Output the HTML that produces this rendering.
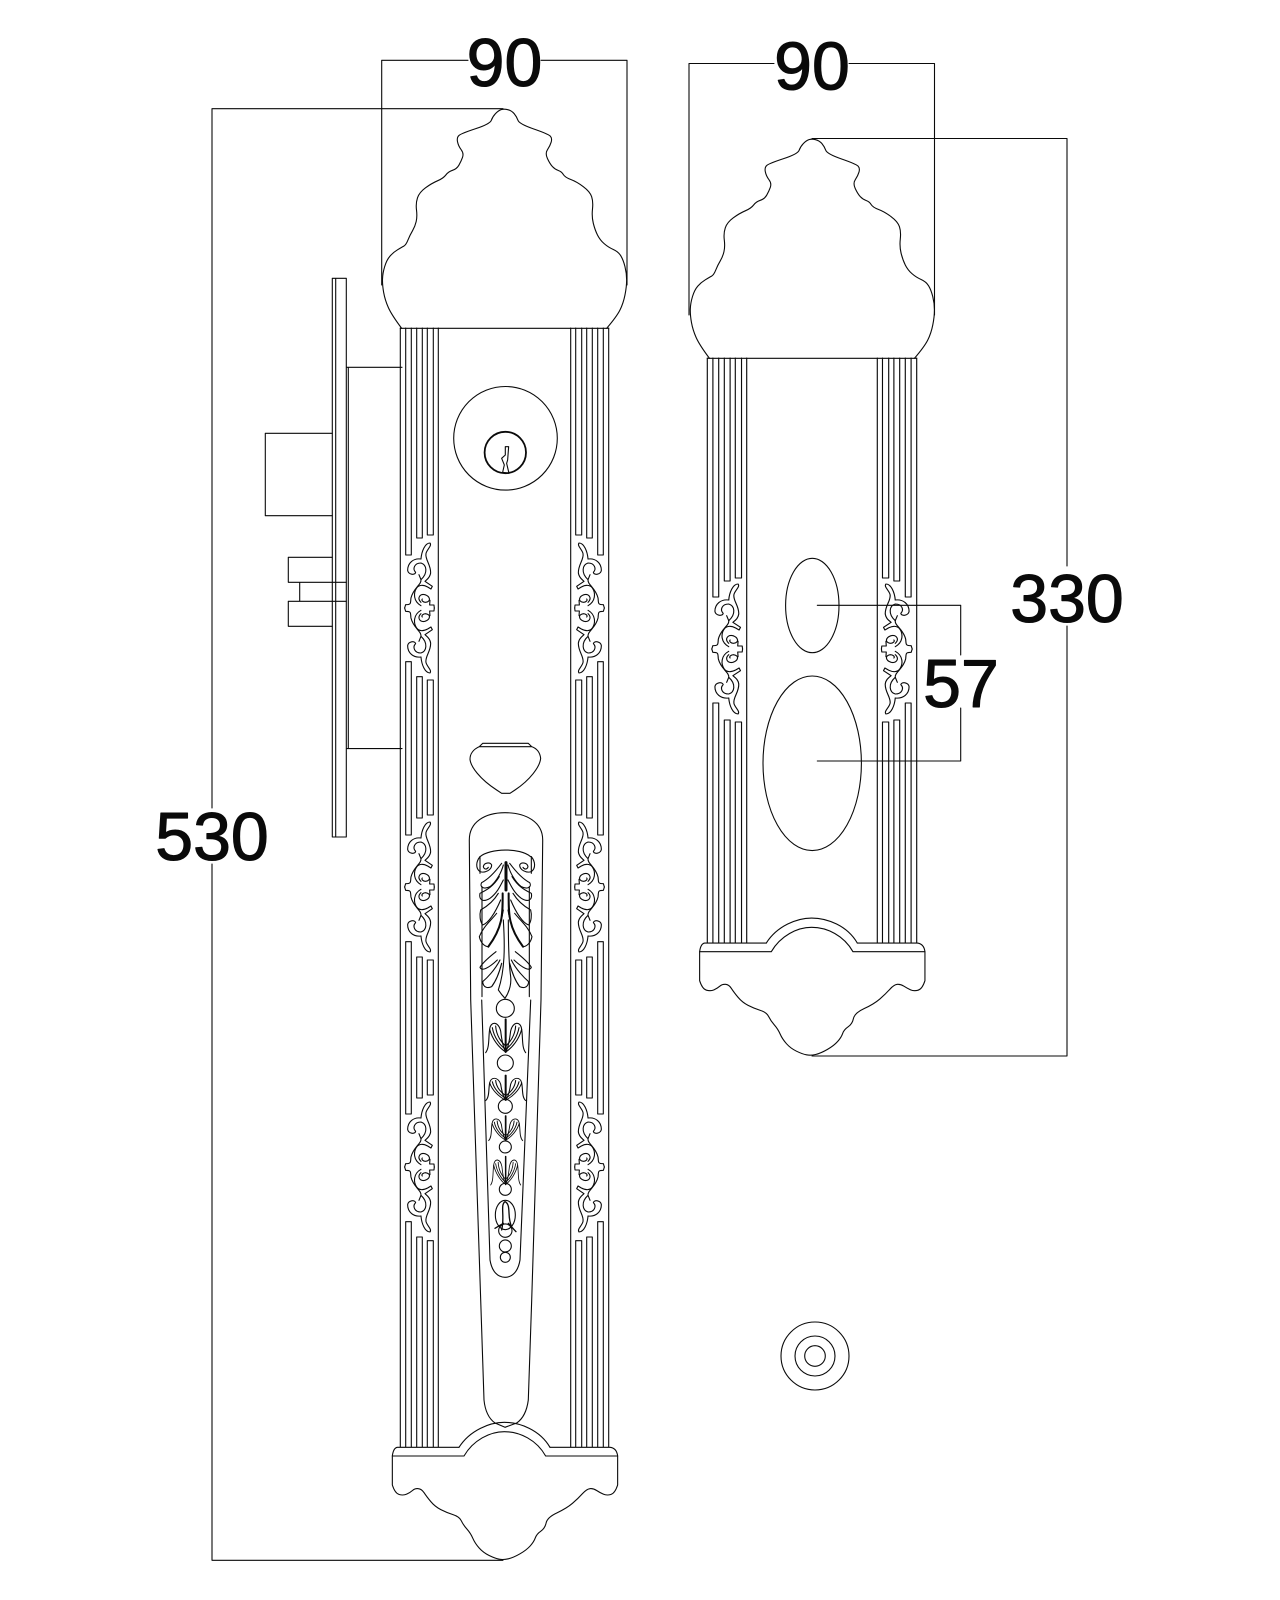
<!DOCTYPE html>
<html><head><meta charset="utf-8"><title>Lock drawing</title>
<style>html,body{margin:0;padding:0;background:#fff}svg{display:block}
text{font-family:"Liberation Sans",sans-serif;font-size:68px;fill:#0a0a0a;text-anchor:middle}</style></head>
<body>
<svg width="1280" height="1600" viewBox="0 0 1280 1600" xmlns="http://www.w3.org/2000/svg" fill="none" stroke="#0a0a0a" stroke-width="1.1" stroke-linejoin="round" stroke-linecap="round">
<defs>
<g id="oh" transform="translate(-73,-235)">
<path d="M78 88C80 65 90 40 105 40C112 48 95 60 93 72C90 90 108 105 107 130C105 145 95 150 90 155L112 170L108 178L98 172C85 165 72 165 65 175C55 190 55 215 78 228"/>
<path d="M78 88C55 85 38 100 38 122C40 135 60 138 62 128C52 118 58 100 78 100C95 105 100 130 78 150L72 135"/>
<path d="M78 150C80 165 55 175 48 205C46 220 50 225 32 225L29 235"/>
<path d="M78 218C65 205 75 192 90 195C105 200 110 215 92 218C85 218 78 212 82 208"/>
<path d="M105 212L104 226L117 226L118 235"/>
</g>
<g id="orn" transform="scale(.3333)" stroke-width="3.3">
<use href="#oh"/><use href="#oh" transform="scale(1,-1)"/>
</g>
<g id="crown" transform="translate(360,20) scale(.3333)" stroke-width="3.3">
<path d="M125 925Q95 885 85 862.5T71 817.5T67.5 777.5T74 740T90 708.5T112.5 689.5T131.5 678.5T144 660T157.5 632.5T168.5 605T169.5 570T172.5 533.5T196.5 503.5T232.5 482.5T257.5 465T277.5 451T296.5 436T307.5 412.5T303.5 389T292.5 365T297.5 346T347.5 326T394 301T406.5 281T423.5 269T443.5 269T462.5 281T474 301T521.5 327T571 348.5T573.5 366.5T562.5 389T562.5 416T577.5 440T595 451.5T610 463.5T632.5 478.5T670 500T695 530T697.5 567.5T700 610T712.5 645T732.5 671T760 688.5T782.5 707.5T795 740T800 780T795 825T780 870T740 925"/>
</g>
<g id="plate" transform="translate(380,1380) scale(.3333)" stroke-width="3.3">
<path d="M237 202H52Q40 204 37 228V315Q45 340 57.5 343.5T80 342.5T97.5 331.5T115 326T132.5 338.5T152.5 365T182.5 389T219 404T244 422.5T261 447.5T278.5 475T297.5 504T327.5 526.5T357.5 537.5T385 536.5T420 521.5T451 497.5T466 473.5T482.5 453.5T498.5 428.5T531 398.5T577.5 370T607.5 341T630 326T650 331.5T670 342.5T692.5 343.5T713 315V228Q710 204 690 202H510"/>
<path d="M237 202C270 150 330 127 373 127C420 127 480 150 510 202"/>
<path d="M37 228H252C280 180 330 155 373 155C420 155 470 180 497 228H713"/>
</g>
<g id="gL">
<path d="M400.3 328V1447M438.3 328V1447"/>
<path d="M405.7 328V555H411.3V328M416.7 328V538H422.3V328M427.3 328V535H433.3V328"/>
<path d="M405.7 661.7H411.3V835H405.7ZM416.7 676.7H422.3V818H416.7ZM427.3 680H433.3V815H427.3Z"/>
<path d="M405.7 941.7H411.3V1114H405.7ZM416.7 957H422.3V1098H416.7ZM427.3 960H433.3V1095H427.3Z"/>
<path d="M405.7 1447V1221.7H411.3V1447M416.7 1447V1237H422.3V1447M427.3 1447V1240.7H433.3V1447"/>
<use href="#orn" transform="translate(419.3,608)"/>
<use href="#orn" transform="translate(419.3,887)"/>
<use href="#orn" transform="translate(419.3,1167)"/>
</g>
<g id="gR" transform="translate(707.3,0) scale(1.037,1) translate(-400.3,0)">
<path d="M400.3 358V943M438.3 358V943"/>
<path d="M405.7 358V597H411.3V358M416.7 358V581H422.3V358M427.3 358V578H433.3V358"/>
<path d="M405.7 943V703H411.3V943M416.7 943V720H422.3V943M427.3 943V722H433.3V943"/>
<use href="#orn" transform="translate(419.3,649)"/>
</g>
<g id="leafh">
<path d="M120 380C108 395 106 415 120 425C135 430 155 420 155 405C150 395 132 398 130 410C132 418 140 420 145 412"/>
<path d="M185 400C170 420 150 445 125 458C118 470 130 480 150 470C170 455 185 425 190 405"/>
<path d="M178 440C160 470 140 480 120 490C116 510 130 518 150 505C170 490 180 470 190 450"/>
<path d="M175 490C160 515 140 530 122 540C118 555 120 575 128 585C145 580 165 550 182 510"/>
<path d="M170 550C150 575 130 590 118 620C122 640 135 650 145 650C160 630 180 600 190 540"/>
<path d="M168 665C150 680 130 695 120 712C125 725 145 715 172 690"/>
<path d="M180 690C165 720 140 745 128 755C130 775 145 775 155 770C170 750 180 720 185 700"/>
<path d="M188 490C188 550 190 590 145 650" stroke-width="6"/>
<path d="M120 380V430M126 470V800"/>
</g>
<g id="tulh">
<path d="M-60 100C-48 85 -52 55 -48 30C-45 5 -22 5 -15 35C-12 60 -8 85 0 98"/>
<path d="M-48 30C-40 60 -20 85 0 98"/>
<path d="M-40 25C-35 55 -15 80 0 90"/>
<path d="M-30 20C-28 50 -12 70 0 80"/>
</g>
<g id="tul"><use href="#tulh"/><use href="#tulh" transform="scale(-1,1)"/><path d="M0 0V98" stroke-width="6"/></g>
</defs>

<!-- dimension lines -->
<path d="M381.7 285V60.3H468M541 60.3H627V285"/>
<path d="M689 315V63.5H774M849 63.5H934.5V315"/>
<path d="M503 108.7H212V808M212 864V1560.3H503"/>
<path d="M812 138.5H1067V566M1067 626V1056H812"/>
<path d="M817.3 605.3H960.7V655M960.7 708V761H817.3"/>
<text x="504.5" y="86">90</text>
<text x="812" y="89.5">90</text>
<text x="212" y="860">530</text>
<text x="1067" y="622">330</text>
<text x="961" y="707">57</text>

<!-- left panel -->
<use href="#crown"/>
<path d="M400.3 328.3H608.7"/>
<use href="#gL"/>
<use href="#gL" transform="translate(1009,0) scale(-1,1)"/>
<use href="#plate"/>

<!-- cylinder -->
<circle cx="505.5" cy="438.3" r="51.8"/>
<circle cx="505.3" cy="452.5" r="20.7" stroke-width="1.8"/>
<g transform="translate(250,260) scale(.3333)" stroke-width="3.3">
<polygon points="766,560 776,560 773,600 770,610 777,640 758,637 763,615 755,595 766,585"/>
</g>

<!-- lock body -->
<path d="M332.3 278.3H346.3V837H332.3ZM335.7 278.3V837M348.3 367.3V748.6M346.3 367.3H402M346.3 748.6H402"/>
<path d="M332.3 433.3H265.3V515.7H332.3"/>
<path d="M332.3 557.3H288.3V582.3H346.3M332.3 626.3H288.3V601.3H346.3M299.7 582.3V601.3"/>

<!-- knob and handle -->
<g transform="translate(440,730) scale(.3333)" stroke-width="3.3">
<path d="M118 50L128 40H265L275 50ZM118 50C100 58 90 72 90 88C92 110 120 148 170 180L185 190H210L225 180C270 150 300 110 302 85C300 68 292 56 275 50"/>
<use href="#leafh"/>
<use href="#leafh" transform="translate(394,0) scale(-1,1)"/>
<path d="M120 380C150 355 240 352 272 380"/>
<path d="M198 398V480" stroke-width="9"/>
<path d="M190 570C195 650 195 720 175 780C185 795 195 805 195 805C205 790 215 770 212 740C205 690 205 620 205 570"/>
</g>
<path d="M469.3 840C469.3 822 485 812.7 505 812.7C526 812.7 542.7 822 542.7 840L541 1000L531.7 1300L528.3 1400C527 1410 524 1418 516.7 1423L505 1427.3L495 1423C488 1418 485 1410 484 1400L480.7 1300L470.7 1000Z"/>
<path d="M481.7 1000L490 1260C492 1272 498 1277.3 505 1277.3C512 1277.3 518 1272 520 1260L530.7 1000"/>
<g transform="translate(440,1000) scale(.3333)" stroke-width="3.3">
<circle cx="196" cy="25" r="27"/>
<use href="#tul" transform="translate(197,58)"/>
<circle cx="196" cy="189" r="24"/>
<use href="#tul" transform="translate(197,226) scale(1,.76)"/>
<circle cx="196" cy="319" r="21"/>
<use href="#tul" transform="translate(197,348) scale(.85,.74)"/>
<circle cx="196" cy="441" r="18"/>
<use href="#tul" transform="translate(197,470) scale(.75,.85)"/>
<circle cx="196" cy="568" r="18"/>
<ellipse cx="196" cy="645" rx="30" ry="44"/>
<path d="M185 690C195 650 180 615 195 605C215 615 200 650 215 680M165 685L190 670M205 670L228 695" stroke-width="4"/>
<circle cx="196" cy="692" r="20"/>
<circle cx="196" cy="738" r="18"/>
<circle cx="196" cy="772" r="15"/>
</g>

<!-- right panel -->
<use href="#crown" transform="translate(307.8,30)"/>
<path d="M707.3 358.3H916.7"/>
<use href="#gR"/>
<use href="#gR" transform="translate(1624,0) scale(-1,1)"/>
<use href="#plate" transform="translate(307.3,-504.3)"/>
<ellipse cx="812.3" cy="605.5" rx="26.7" ry="47.2"/>
<ellipse cx="812.2" cy="763.3" rx="49.2" ry="87.3"/>

<!-- screw -->
<circle cx="815" cy="1356" r="34"/>
<circle cx="815" cy="1356" r="20"/>
<circle cx="815" cy="1356" r="10.3"/>
</svg>
</body></html>
